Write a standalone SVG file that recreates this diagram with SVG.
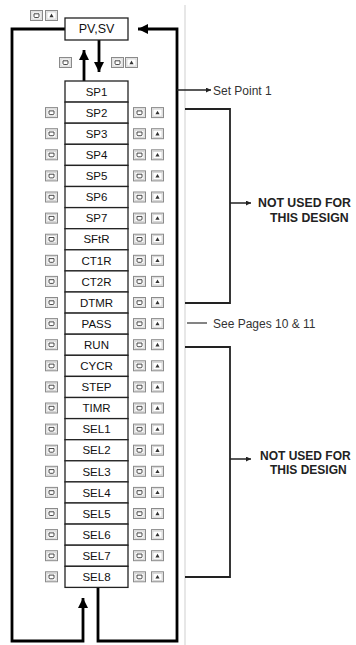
<svg xmlns="http://www.w3.org/2000/svg" xmlns:xlink="http://www.w3.org/1999/xlink" width="356" height="645" viewBox="0 0 356 645">
<style>
.bx{fill:#fff;stroke:#222;stroke-width:1.3}
.lb{font-family:"Liberation Sans",Arial,sans-serif;font-size:11.5px;fill:#111;text-anchor:middle}
.main{fill:none;stroke:#000;stroke-width:2.8}
.brk{fill:none;stroke:#222;stroke-width:1.8}
.note{font-family:"Liberation Sans",Arial,sans-serif;font-size:12px;fill:#333}
.bold{font-family:"Liberation Sans",Arial,sans-serif;font-size:12.3px;font-weight:bold;fill:#222}
</style>
<defs>
<marker id="ah" markerUnits="userSpaceOnUse" markerWidth="12" markerHeight="12" refX="10" refY="5" orient="auto"><path d="M0,0 L10,5 L0,10 z" fill="#000"/></marker>
<marker id="sa" markerUnits="userSpaceOnUse" markerWidth="6" markerHeight="6" refX="5" refY="2.5" orient="auto"><path d="M0,0 L5,2.5 L0,5 z" fill="#222"/></marker>
<g id="icR"><rect x="0.5" y="0.5" width="12" height="10" fill="#ececec" stroke="#8a8a8a"/><rect x="2" y="2" width="9" height="7" fill="#fff" stroke="#c4c4c4" stroke-width="0.6"/><path d="M4,3.8 h5 v2.6 q0,1.1 -1.1,1.1 h-2.8 q-1.1,0 -1.1,-1.1 z" fill="none" stroke="#333" stroke-width="0.9"/></g>
<g id="icU"><rect x="0.5" y="0.5" width="12" height="10" fill="#ececec" stroke="#8a8a8a"/><rect x="2" y="2" width="9" height="7" fill="#fff" stroke="#c4c4c4" stroke-width="0.6"/><path d="M6.5,3.6 L8.6,7.2 H4.4 z" fill="#333"/></g>
</defs>

<line x1="185" y1="5" x2="185" y2="645" stroke="#cfcfcf" stroke-width="1"/>

<g id="connectors">
<path class="main" d="M65,29 H12 V641 H83 V598" marker-end="url(#ah)"/>
<path class="main" d="M98,587 V641 H177 V29 H138" marker-end="url(#ah)"/>
<path class="main" d="M84,81 V50" marker-end="url(#ah)"/>
<path class="main" d="M99,40 V72" marker-end="url(#ah)"/>
<path d="M177,90 H211" stroke="#222" stroke-width="1.5" fill="none" marker-end="url(#sa)"/>
<path class="brk" d="M185,109 H230 V303 H185"/>
<path d="M230,203 H251" stroke="#222" stroke-width="1.5" fill="none" marker-end="url(#sa)"/>
<path d="M187,323 H207" stroke="#333" stroke-width="1.2"/>
<path class="brk" d="M185,347 H230 V577 H185"/>
<path d="M230,459 H251" stroke="#222" stroke-width="1.5" fill="none" marker-end="url(#sa)"/>
</g>

<g id="pvsv">
<rect class="bx" x="65" y="18" width="63" height="22"/>
<text class="lb" x="96.5" y="33" style="font-size:12.5px">PV,SV</text>
<use xlink:href="#icR" x="30" y="10"/>
<use xlink:href="#icU" x="45" y="10"/>
</g>
<g id="mid-icons">
<use xlink:href="#icR" x="59" y="57"/>
<use xlink:href="#icR" x="111" y="57"/>
<use xlink:href="#icU" x="125" y="57"/>
</g>

<g id="r0" transform="translate(0,81)"><rect class="bx" x="65" y="0" width="63" height="21.1"/><text class="lb" x="96.5" y="14.8">SP1</text></g>
<g id="r1" transform="translate(0,102.1)"><rect class="bx" x="65" y="0" width="63" height="21.1"/><text class="lb" x="96.5" y="14.8">SP2</text><use xlink:href="#icR" x="45" y="5"/><use xlink:href="#icR" x="133" y="5"/><use xlink:href="#icU" x="151" y="5"/></g>
<g id="r2" transform="translate(0,123.2)"><rect class="bx" x="65" y="0" width="63" height="21.1"/><text class="lb" x="96.5" y="14.8">SP3</text><use xlink:href="#icR" x="45" y="5"/><use xlink:href="#icR" x="133" y="5"/><use xlink:href="#icU" x="151" y="5"/></g>
<g id="r3" transform="translate(0,144.3)"><rect class="bx" x="65" y="0" width="63" height="21.1"/><text class="lb" x="96.5" y="14.8">SP4</text><use xlink:href="#icR" x="45" y="5"/><use xlink:href="#icR" x="133" y="5"/><use xlink:href="#icU" x="151" y="5"/></g>
<g id="r4" transform="translate(0,165.4)"><rect class="bx" x="65" y="0" width="63" height="21.1"/><text class="lb" x="96.5" y="14.8">SP5</text><use xlink:href="#icR" x="45" y="5"/><use xlink:href="#icR" x="133" y="5"/><use xlink:href="#icU" x="151" y="5"/></g>
<g id="r5" transform="translate(0,186.5)"><rect class="bx" x="65" y="0" width="63" height="21.1"/><text class="lb" x="96.5" y="14.8">SP6</text><use xlink:href="#icR" x="45" y="5"/><use xlink:href="#icR" x="133" y="5"/><use xlink:href="#icU" x="151" y="5"/></g>
<g id="r6" transform="translate(0,207.6)"><rect class="bx" x="65" y="0" width="63" height="21.1"/><text class="lb" x="96.5" y="14.8">SP7</text><use xlink:href="#icR" x="45" y="5"/><use xlink:href="#icR" x="133" y="5"/><use xlink:href="#icU" x="151" y="5"/></g>
<g id="r7" transform="translate(0,228.7)"><rect class="bx" x="65" y="0" width="63" height="21.1"/><text class="lb" x="96.5" y="14.8">SFtR</text><use xlink:href="#icR" x="45" y="5"/><use xlink:href="#icR" x="133" y="5"/><use xlink:href="#icU" x="151" y="5"/></g>
<g id="r8" transform="translate(0,249.8)"><rect class="bx" x="65" y="0" width="63" height="21.1"/><text class="lb" x="96.5" y="14.8">CT1R</text><use xlink:href="#icR" x="45" y="5"/><use xlink:href="#icR" x="133" y="5"/><use xlink:href="#icU" x="151" y="5"/></g>
<g id="r9" transform="translate(0,270.9)"><rect class="bx" x="65" y="0" width="63" height="21.1"/><text class="lb" x="96.5" y="14.8">CT2R</text><use xlink:href="#icR" x="45" y="5"/><use xlink:href="#icR" x="133" y="5"/><use xlink:href="#icU" x="151" y="5"/></g>
<g id="r10" transform="translate(0,292)"><rect class="bx" x="65" y="0" width="63" height="21.1"/><text class="lb" x="96.5" y="14.8">DTMR</text><use xlink:href="#icR" x="45" y="5"/><use xlink:href="#icR" x="133" y="5"/><use xlink:href="#icU" x="151" y="5"/></g>
<g id="r11" transform="translate(0,313.1)"><rect class="bx" x="65" y="0" width="63" height="21.1"/><text class="lb" x="96.5" y="14.8">PASS</text><use xlink:href="#icR" x="45" y="5"/><use xlink:href="#icR" x="133" y="5"/><use xlink:href="#icU" x="151" y="5"/></g>
<g id="r12" transform="translate(0,334.2)"><rect class="bx" x="65" y="0" width="63" height="21.1"/><text class="lb" x="96.5" y="14.8">RUN</text><use xlink:href="#icR" x="45" y="5"/><use xlink:href="#icR" x="133" y="5"/><use xlink:href="#icU" x="151" y="5"/></g>
<g id="r13" transform="translate(0,355.3)"><rect class="bx" x="65" y="0" width="63" height="21.1"/><text class="lb" x="96.5" y="14.8">CYCR</text><use xlink:href="#icR" x="45" y="5"/><use xlink:href="#icR" x="133" y="5"/><use xlink:href="#icU" x="151" y="5"/></g>
<g id="r14" transform="translate(0,376.4)"><rect class="bx" x="65" y="0" width="63" height="21.1"/><text class="lb" x="96.5" y="14.8">STEP</text><use xlink:href="#icR" x="45" y="5"/><use xlink:href="#icR" x="133" y="5"/><use xlink:href="#icU" x="151" y="5"/></g>
<g id="r15" transform="translate(0,397.5)"><rect class="bx" x="65" y="0" width="63" height="21.1"/><text class="lb" x="96.5" y="14.8">TIMR</text><use xlink:href="#icR" x="45" y="5"/><use xlink:href="#icR" x="133" y="5"/><use xlink:href="#icU" x="151" y="5"/></g>
<g id="r16" transform="translate(0,418.6)"><rect class="bx" x="65" y="0" width="63" height="21.1"/><text class="lb" x="96.5" y="14.8">SEL1</text><use xlink:href="#icR" x="45" y="5"/><use xlink:href="#icR" x="133" y="5"/><use xlink:href="#icU" x="151" y="5"/></g>
<g id="r17" transform="translate(0,439.7)"><rect class="bx" x="65" y="0" width="63" height="21.1"/><text class="lb" x="96.5" y="14.8">SEL2</text><use xlink:href="#icR" x="45" y="5"/><use xlink:href="#icR" x="133" y="5"/><use xlink:href="#icU" x="151" y="5"/></g>
<g id="r18" transform="translate(0,460.8)"><rect class="bx" x="65" y="0" width="63" height="21.1"/><text class="lb" x="96.5" y="14.8">SEL3</text><use xlink:href="#icR" x="45" y="5"/><use xlink:href="#icR" x="133" y="5"/><use xlink:href="#icU" x="151" y="5"/></g>
<g id="r19" transform="translate(0,481.9)"><rect class="bx" x="65" y="0" width="63" height="21.1"/><text class="lb" x="96.5" y="14.8">SEL4</text><use xlink:href="#icR" x="45" y="5"/><use xlink:href="#icR" x="133" y="5"/><use xlink:href="#icU" x="151" y="5"/></g>
<g id="r20" transform="translate(0,503)"><rect class="bx" x="65" y="0" width="63" height="21.1"/><text class="lb" x="96.5" y="14.8">SEL5</text><use xlink:href="#icR" x="45" y="5"/><use xlink:href="#icR" x="133" y="5"/><use xlink:href="#icU" x="151" y="5"/></g>
<g id="r21" transform="translate(0,524.1)"><rect class="bx" x="65" y="0" width="63" height="21.1"/><text class="lb" x="96.5" y="14.8">SEL6</text><use xlink:href="#icR" x="45" y="5"/><use xlink:href="#icR" x="133" y="5"/><use xlink:href="#icU" x="151" y="5"/></g>
<g id="r22" transform="translate(0,545.2)"><rect class="bx" x="65" y="0" width="63" height="21.1"/><text class="lb" x="96.5" y="14.8">SEL7</text><use xlink:href="#icR" x="45" y="5"/><use xlink:href="#icR" x="133" y="5"/><use xlink:href="#icU" x="151" y="5"/></g>
<g id="r23" transform="translate(0,566.3)"><rect class="bx" x="65" y="0" width="63" height="21.1"/><text class="lb" x="96.5" y="14.8">SEL8</text><use xlink:href="#icR" x="45" y="5"/><use xlink:href="#icR" x="133" y="5"/><use xlink:href="#icU" x="151" y="5"/></g>

<g id="notes">
<text class="note" x="213" y="94.5">Set Point 1</text>
<text class="note" x="213" y="327.5" fill="#444">See Pages 10 &amp; 11</text>
<text class="bold" x="258" y="206.5">NOT USED FOR</text>
<text class="bold" x="270" y="221.5">THIS DESIGN</text>
<text class="bold" x="260" y="459.5" style="font-size:12px">NOT USED FOR</text>
<text class="bold" x="270" y="473.5" style="font-size:12px">THIS DESIGN</text>
</g>
</svg>
